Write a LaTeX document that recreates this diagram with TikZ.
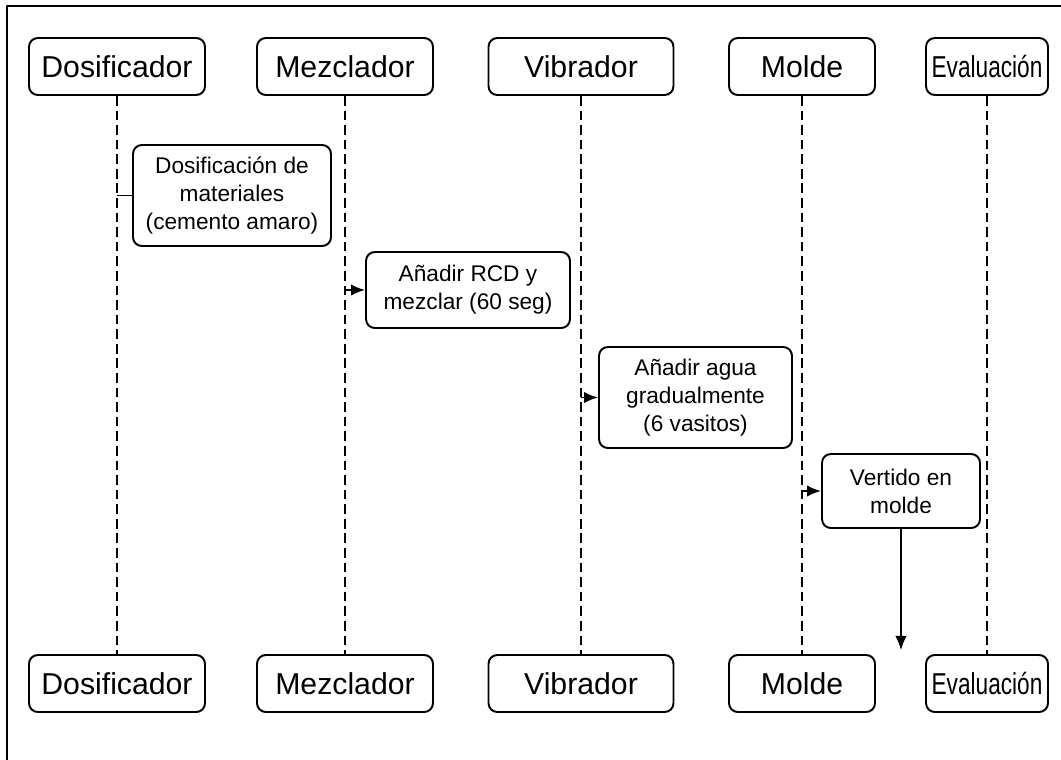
\documentclass[tikz,border=0pt]{standalone}
\usepackage{fontspec}
\setmainfont{Liberation Sans}
\usepackage{graphicx}
\usetikzlibrary{arrows.meta}

\begin{document}
\begin{tikzpicture}[x=0.02cm, y=-0.02cm, line join=round, >={Latex[length=8pt,width=6.5pt]},
		actor/.style={draw, line width=1.1pt, rounded corners=5pt, minimum height=1.14cm, inner sep=0pt, font=\fontsize{17.2}{20}\selectfont},
		paso/.style={draw, line width=1.1pt, rounded corners=5pt, align=center, inner sep=0pt, font=\fontsize{12.9}{16}\selectfont},
		vida/.style={dash pattern=on 5.5pt off 2.8pt, line width=1.2pt}]
		\useasboundingbox (0,0) rectangle (1061,760);
		\draw[line width=1.2pt] (7,760)--(7,6)--(1061,6);
		% participantes arriba y abajo, con linea de vida
		\foreach \n/\x/\w/\t in {dos/117/3.52/Dosificador, mez/345/3.52/Mezclador, vib/581/3.7/Vibrador, mol/802/2.92/Molde, eva/987/2.44/{\scalebox{.75}[1]{Evaluación}}}{
			\node[actor, minimum width=\w cm] (h\n) at (\x,66.5) {\t};
			\node[actor, minimum width=\w cm] (f\n) at (\x,683.5) {\t};
			\draw[vida] (h\n.south)--(f\n.north);
		}
		\node[paso, minimum width=3.96cm, minimum height=2.02cm] (dosif) at (232,195.5) {Dosificación de\\materiales\\(cemento amaro)};
		\node[paso, minimum width=4.08cm, minimum height=1.52cm] (rcd) at (468,290) {Añadir RCD y\\mezclar (60 seg)};
		\node[paso, minimum width=3.86cm, minimum height=2.02cm] (agua) at (695.5,397.5) {Añadir agua\\gradualmente\\(6 vasitos)};
		\node[paso, minimum width=3.16cm, minimum height=1.48cm] (vertido) at (901,491) {Vertido en\\molde};
		\coordinate (fin) at (901,650);
		
		\draw[line width=1.1pt] (hdos.south |- dosif.west)--(dosif.west);
		\draw[->, line width=1.1pt] (hmez.south |- rcd.west)--(rcd.west);
		\draw[->, line width=1.1pt] (hvib.south |- agua.west)--(agua.west);
		\draw[->, line width=1.1pt] (hmol.south |- vertido.west)--(vertido.west);
		\draw[->, line width=.7pt] (vertido.south)--(fin);
		
	\end{tikzpicture}
\end{document}
